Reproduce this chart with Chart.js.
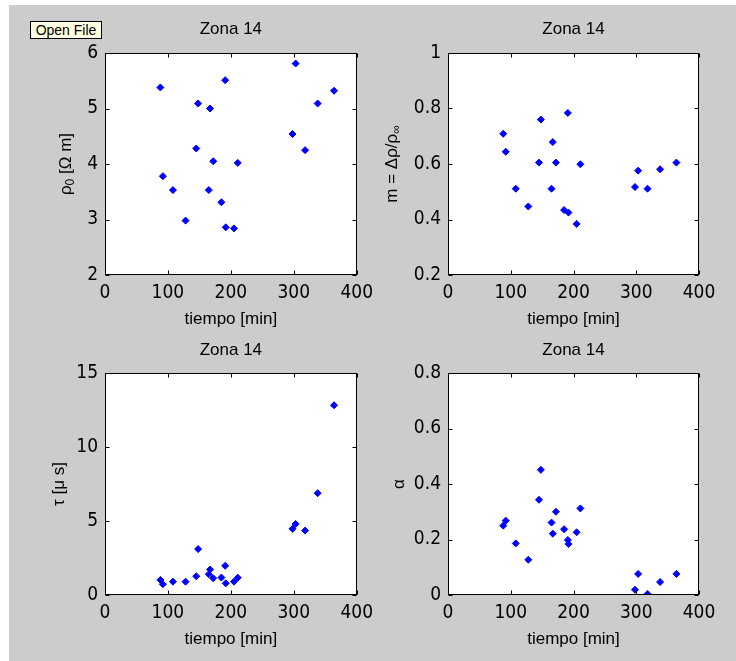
<!DOCTYPE html>
<html>
<head>
<meta charset="utf-8">
<script src="https://cdn.jsdelivr.net/npm/chart.js@4.4.1/dist/chart.umd.min.js"></script>
<style>
  body { margin: 0; width: 736px; height: 661px; background: #fff; position: relative; overflow: hidden; }
  #fig { position: absolute; left: 9px; top: 5px; right: 0; bottom: 0; background: #cccccc; }
  canvas { position: absolute; }
  #tip {
    position: absolute; left: 30px; top: 21px; width: 70px; height: 16px;
    background: #ffffe1; border: 1px solid #000;
    font: 14px "Liberation Sans", Arial, sans-serif; line-height: 16px;
    text-align: center; color: #000; z-index: 5;
  }
</style>
</head>
<body>
<div id="fig"></div>
<canvas id="c1" width="380" height="330" style="left:0;top:0"></canvas>
<canvas id="c2" width="368" height="330" style="left:368px;top:0"></canvas>
<canvas id="c3" width="380" height="331" style="left:0;top:330px"></canvas>
<canvas id="c4" width="368" height="331" style="left:368px;top:330px"></canvas>
<div id="tip">Open File</div>
<script>
// tiempo [min] de cada medida, Zona 14
const tiempo = [88, 92, 108, 128, 145, 148, 165, 167, 172, 185, 191, 192, 205, 211, 298, 303, 318, 338, 364];
const rho0  = [5.38, 3.78, 3.53, 2.98, 4.28, 5.09, 3.53, 5.00, 4.05, 3.31, 5.51, 2.86, 2.84, 4.02, 4.54, 5.81, 4.25, 5.09, 5.32];
const mRel  = [0.709, 0.644, 0.511, 0.447, 0.605, 0.760, 0.511, 0.679, 0.605, 0.434, 0.784, 0.425, 0.384, 0.599, 0.517, 0.576, 0.511, 0.581, 0.605];
const tau   = [1.02, 0.73, 0.90, 0.90, 1.27, 3.10, 1.40, 1.72, 1.13, 1.18, 1.97, 0.79, 0.90, 1.17, 4.47, 4.80, 4.35, 6.88, 12.82];
const alpha = [0.250, 0.268, 0.186, 0.127, 0.343, 0.451, 0.261, 0.221, 0.300, 0.237, 0.198, 0.184, 0.226, 0.312, 0.019, 0.076, 0.004, 0.047, 0.076];

const xTicks = [0, 100, 200, 300, 400];
const rhoTicks = [2, 3, 4, 5, 6];
const mTicks = [0.2, 0.4, 0.6, 0.8, 1];
const tauTicks = [0, 5, 10, 15];
const alphaTicks = [0, 0.2, 0.4, 0.6, 0.8];

const SANS = '"Liberation Sans", Arial, sans-serif';
const NARROW = '"Liberation Sans Narrow", "DejaVu Sans Condensed", Arial, sans-serif';

// caja de ejes estilo MATLAB: fondo blanco, marco negro, marcas hacia dentro
// y etiqueta del eje y con subíndices
const matlabBox = {
  id: 'matlabBox',
  beforeDraw(chart) {
    const { ctx, chartArea: a } = chart;
    ctx.save();
    ctx.fillStyle = '#fff';
    ctx.fillRect(a.left, a.top, a.right - a.left, a.bottom - a.top);
    ctx.restore();
  },
  afterDraw(chart, args, opts) {
    const { ctx, chartArea: a, scales: { x, y } } = chart;
    const L = Math.round(a.left) + 0.5, R = Math.round(a.right) - 0.5;
    const T = Math.round(a.top) + 0.5, B = Math.round(a.bottom) - 0.5;
    const tl = 4;
    ctx.save();
    ctx.strokeStyle = '#000';
    ctx.lineWidth = 1;
    ctx.strokeRect(L, T, R - L, B - T);
    ctx.beginPath();
    x.ticks.forEach(t => {
      const px = Math.round(x.getPixelForValue(t.value)) + 0.5;
      ctx.moveTo(px, B); ctx.lineTo(px, B - tl);
      ctx.moveTo(px, T); ctx.lineTo(px, T + tl);
    });
    y.ticks.forEach(t => {
      const py = Math.round(y.getPixelForValue(t.value)) + 0.5;
      ctx.moveTo(L, py); ctx.lineTo(L + tl, py);
      ctx.moveTo(R, py); ctx.lineTo(R - tl, py);
    });
    ctx.stroke();

    // etiqueta vertical del eje y
    const parts = opts.label;
    const big = '17px ' + SANS, small = '12px ' + SANS;
    let w = 0;
    parts.forEach(p => { ctx.font = p.sub ? small : big; w += ctx.measureText(p.t).width; });
    ctx.translate(a.left - opts.offset, (a.top + a.bottom) / 2);
    ctx.rotate(-Math.PI / 2);
    ctx.fillStyle = '#000';
    ctx.textBaseline = 'middle';
    let cx = -w / 2;
    parts.forEach(p => {
      ctx.font = p.sub ? small : big;
      ctx.fillText(p.t, cx, p.sub ? 5 : 0);
      cx += ctx.measureText(p.t).width;
    });
    ctx.restore();
  }
};

function panel(id, values, yTicks, label, box) {
  const tickFont = { family: NARROW, size: 19 };
  new Chart(document.getElementById(id), {
    type: 'scatter',
    data: {
      datasets: [{
        data: tiempo.map((t, i) => ({ x: t, y: values[i] })),
        pointStyle: 'rectRot',
        pointRadius: 3.5,
        backgroundColor: '#0000ff',
        borderColor: '#0000ff',
        borderWidth: 1
      }]
    },
    options: {
      responsive: false,
      animation: false,
      events: [],
      layout: { padding: { left: 0, top: 0, right: box.right, bottom: box.bottom } },
      plugins: {
        legend: { display: false },
        tooltip: { enabled: false },
        matlabBox: { label: label, offset: box.labOffset }
      },
      scales: {
        x: {
          type: 'linear',
          min: 0, max: 400,
          grid: { display: false, drawTicks: false },
          border: { display: false },
          ticks: { font: tickFont, color: '#000', padding: 7, maxRotation: 0 },
          afterBuildTicks: s => { s.ticks = xTicks.map(v => ({ value: v })); },
          afterFit: s => { s.height = 55; },
          title: {
            display: true,
            text: 'tiempo [min]',
            color: '#000',
            font: { family: SANS, size: 17, lineHeight: 1.2 },
            padding: 0
          }
        },
        // eje superior vacío: sólo lleva el título centrado sobre la caja
        xTop: {
          type: 'linear',
          axis: 'x',
          position: 'top',
          min: 0, max: 400,
          grid: { display: false, drawTicks: false },
          border: { display: false },
          ticks: { display: false },
          afterFit: s => { s.height = box.top; },
          title: {
            display: true,
            text: 'Zona 14',
            color: '#000',
            font: { family: SANS, size: 17, lineHeight: 1.2 },
            padding: { top: box.titleTop, bottom: 0 }
          }
        },
        y: {
          type: 'linear',
          min: yTicks[0], max: yTicks[yTicks.length - 1],
          grid: { display: false, drawTicks: false },
          border: { display: false },
          ticks: {
            font: tickFont, color: '#000', padding: 7,
            callback: v => String(Math.round(v * 10) / 10)
          },
          afterBuildTicks: s => { s.ticks = yTicks.map(v => ({ value: v })); },
          afterFit: s => { s.width = box.left; }
        }
      }
    },
    plugins: [matlabBox]
  });
}

panel('c1', rho0, rhoTicks,
  [{ t: 'ρ' }, { t: '0', sub: true }, { t: ' [Ω m]' }],
  { left: 105, right: 23, bottom: 0, top: 53, titleTop: 18.8, labOffset: 39 });
panel('c2', mRel, mTicks,
  [{ t: 'm = Δρ/ρ' }, { t: '∞', sub: true }],
  { left: 80, right: 37, bottom: 0, top: 53, titleTop: 18.8, labOffset: 56 });
panel('c3', tau, tauTicks,
  [{ t: 'τ [μ s]' }],
  { left: 105, right: 23, bottom: 11, top: 43, titleTop: 9.8, labOffset: 46 });
panel('c4', alpha, alphaTicks,
  [{ t: 'α' }],
  { left: 80, right: 37, bottom: 11, top: 43, titleTop: 9.8, labOffset: 49 });
</script>
</body>
</html>
